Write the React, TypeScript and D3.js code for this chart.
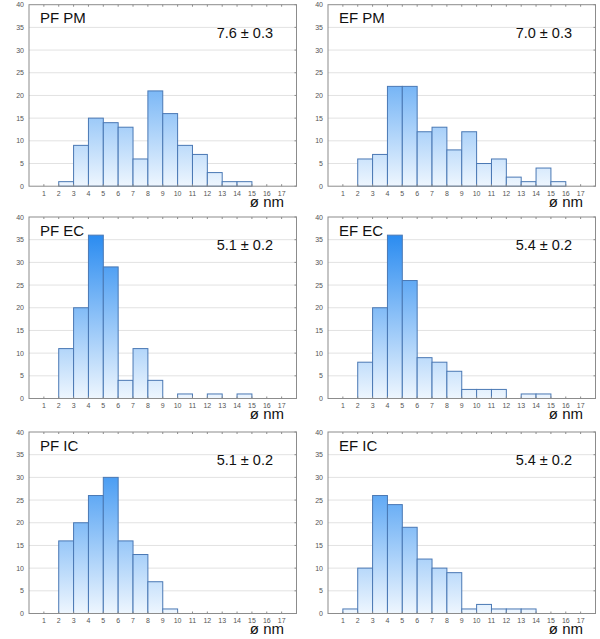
import React from "react";
import * as d3 from "d3";

const bins: number[] = [1, 2, 3, 4, 5, 6, 7, 8, 9, 10, 11, 12, 13, 14, 15, 16];
const xTicks: number[] = [1, 2, 3, 4, 5, 6, 7, 8, 9, 10, 11, 12, 13, 14, 15, 16, 17];
const yTicks: number[] = [0, 5, 10, 15, 20, 25, 30, 35, 40];

const pfPM: number[] = [0, 1, 9, 15, 14, 13, 6, 21, 16, 9, 7, 3, 1, 1, 0, 0];
const efPM: number[] = [0, 6, 7, 22, 22, 12, 13, 8, 12, 5, 6, 2, 1, 4, 1, 0];
const pfEC: number[] = [0, 11, 20, 36, 29, 4, 11, 4, 0, 1, 0, 1, 0, 1, 0, 0];
const efEC: number[] = [0, 8, 20, 36, 26, 9, 8, 6, 2, 2, 2, 0, 1, 1, 0, 0];
const pfIC: number[] = [0, 16, 20, 26, 30, 16, 13, 7, 1, 0, 0, 0, 0, 0, 0, 0];
const efIC: number[] = [1, 10, 26, 24, 19, 12, 10, 9, 1, 2, 1, 1, 1, 0, 0, 0];

const titles: string[] = ["PF PM", "EF PM", "PF EC", "EF EC", "PF IC", "EF IC"];
const means: string[] = ["7.6 ± 0.3", "7.0 ± 0.3", "5.1 ± 0.2", "5.4 ± 0.2", "5.1 ± 0.2", "5.4 ± 0.2"];
const series: number[][] = [pfPM, efPM, pfEC, efEC, pfIC, efIC];

const colLeft = [29, 328];
const plotW = 267.5;
const rowTop = [4.7, 217, 432];
const plotH = 181.5;
const FONT = "'Liberation Sans', Arial, sans-serif";

function Panel({ idx }: { idx: number }) {
  const col = idx % 2;
  const row = Math.floor(idx / 2);
  const left = colLeft[col];
  const top = rowTop[row];
  const x = d3.scaleLinear().domain([0, 18]).range([left, left + plotW]);
  const y = d3.scaleLinear().domain([0, 40]).range([top + plotH, top]);
  const data = series[idx];
  const gid = `grad${idx}`;
  return (
    <g>
      <defs>
        <linearGradient id={gid} gradientUnits="userSpaceOnUse" x1={0} x2={0} y1={y(40)} y2={y(0)}>
          <stop offset="0%" stopColor="#1580ef" />
          <stop offset="100%" stopColor="#eef6fe" />
        </linearGradient>
      </defs>
      <rect x={left} y={top} width={plotW} height={plotH} fill="#fff" />
      {yTicks.slice(1, -1).map((t) => (
        <line key={t} x1={left} x2={left + plotW} y1={y(t)} y2={y(t)} stroke="#e2e2e2" strokeWidth={1} />
      ))}
      {bins.map((b, i) =>
        data[i] > 0 ? (
          <rect
            key={b}
            x={x(b)}
            y={y(data[i])}
            width={x(b + 1) - x(b)}
            height={y(0) - y(data[i])}
            fill={`url(#${gid})`}
            stroke="#4a78b4"
            strokeWidth={1}
          />
        ) : null
      )}
      <rect x={left} y={top} width={plotW} height={plotH} fill="none" stroke="#8c8c8c" strokeWidth={1} />
      {xTicks.map((t) => (
        <g key={t}>
          <line x1={x(t)} x2={x(t)} y1={y(0)} y2={y(0) - 2} stroke="#8c8c8c" />
          <line x1={x(t)} x2={x(t)} y1={top} y2={top + 2} stroke="#8c8c8c" />
          <text x={x(t)} y={y(0) + 9.5} fontSize={7} fill="#555" textAnchor="middle" fontFamily={FONT}>
            {t}
          </text>
        </g>
      ))}
      {yTicks.map((t) => (
        <g key={t}>
          <line x1={left + plotW} x2={left + plotW - 2} y1={y(t)} y2={y(t)} stroke="#8c8c8c" />
          <text x={left - 5} y={y(t) + 2.5} fontSize={7} fill="#555" textAnchor="end" fontFamily={FONT}>
            {t}
          </text>
        </g>
      ))}
      <text x={left + 11} y={top + 18.5} fontSize={15} fill="#111" fontFamily={FONT}>
        {titles[idx]}
      </text>
      <text x={left + 244} y={top + 33} fontSize={14.5} fill="#111" textAnchor="end" fontFamily={FONT}>
        {means[idx]}
      </text>
      <text x={left + 255} y={y(0) + 20.5} fontSize={15} fill="#111" textAnchor="end" fontFamily={FONT}>
        ø nm
      </text>
    </g>
  );
}

export default function App() {
  return (
    <svg width={600} height={639} style={{ position: "absolute", left: 0, top: 0, background: "#fff" }}>
      <rect width={600} height={639} fill="#fff" />
      {titles.map((_, i) => (
        <Panel key={i} idx={i} />
      ))}
    </svg>
  );
}
